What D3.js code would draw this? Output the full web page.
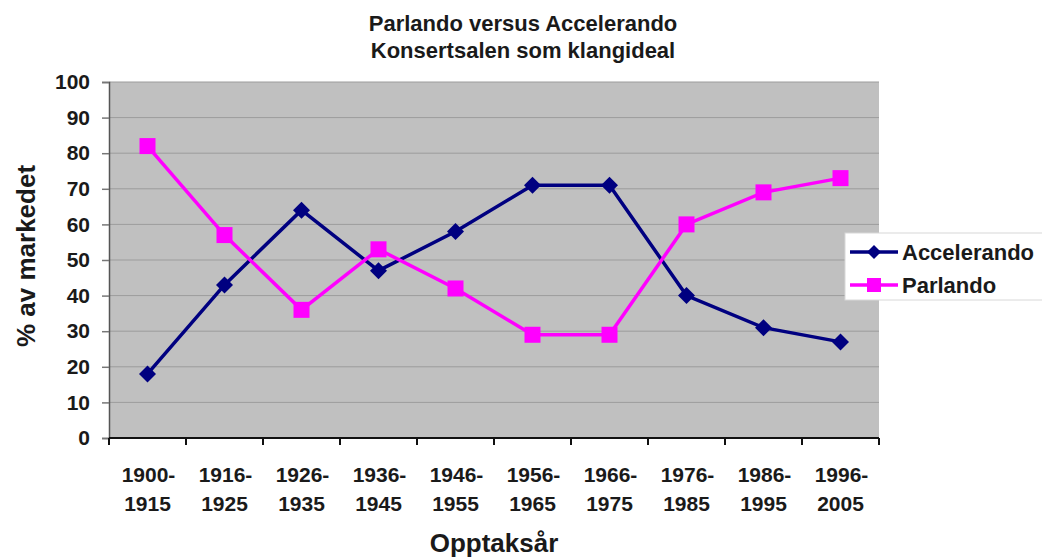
<!DOCTYPE html>
<html><head><meta charset="utf-8">
<script src="https://cdn.jsdelivr.net/npm/d3@7"></script>
<style>body{margin:0;background:#fff}svg{display:block}text{font-family:"Liberation Sans",Arial,sans-serif;font-weight:bold;fill:#1a1a1a}</style>
</head><body><svg id="c" width="1042" height="559"></svg>
<script>
const categories = [["1900-","1915"],["1916-","1925"],["1926-","1935"],["1936-","1945"],["1946-","1955"],["1956-","1965"],["1966-","1975"],["1976-","1985"],["1986-","1995"],["1996-","2005"]];
const accelerando = [18,43,64,47,58,71,71,40,31,27];
const parlando = [82,57,36,53,42,29,29,60,69,73];
const yTicks = [0,10,20,30,40,50,60,70,80,90,100];
const titleLines = ["Parlando versus Accelerando","Konsertsalen som klangideal"];
const seriesNames = ["Accelerando","Parlando"];

const svg = d3.select("#c");
const L=109,R=879,T=82,B=438;
const x = d3.scaleBand().domain(d3.range(categories.length)).range([L,R]);
const y = d3.scaleLinear().domain([0,100]).range([B,T]);

svg.append("rect").attr("x",L).attr("y",T).attr("width",R-L).attr("height",B-T).attr("fill","#c0c0c0");
svg.append("g").selectAll("line").data(yTicks.filter(d=>d>0)).join("line")
  .attr("x1",L).attr("x2",R).attr("y1",d=>y(d)).attr("y2",d=>y(d)).attr("stroke","#9c9c9c").attr("stroke-width",1);

const ya = svg.append("g").attr("transform",`translate(${L},0)`).call(d3.axisLeft(y).tickValues(yTicks).tickSize(7).tickPadding(12));
ya.select(".domain").attr("stroke","#555").attr("stroke-width",1.5);
ya.selectAll(".tick line").attr("stroke","#777").attr("stroke-width",1.5);
ya.selectAll("text").style("font-size","21px").attr("fill","#1a1a1a");

const xa = svg.append("g").attr("transform",`translate(0,${B})`);
xa.append("line").attr("x1",L).attr("x2",R).attr("y1",0).attr("y2",0).attr("stroke","#111").attr("stroke-width",2);
xa.selectAll("line.t").data(d3.range(categories.length+1)).join("line").attr("class","t")
  .attr("x1",i=>L+i*x.step()).attr("x2",i=>L+i*x.step()).attr("y1",0).attr("y2",7).attr("stroke","#111").attr("stroke-width",2);
const cx = i=>x(i)+x.bandwidth()/2;
const xl = xa.selectAll("text").data(categories).join("text")
  .attr("text-anchor","middle").style("font-size","21px");
xl.append("tspan").attr("y",44).attr("x",(d,i)=>cx(i)+1).text(d=>d[0]);
xl.append("tspan").attr("y",73).attr("x",(d,i)=>cx(i)).text(d=>d[1]);

const line = d3.line().x((d,i)=>cx(i)).y(d=>y(d));
svg.append("path").datum(accelerando).attr("d",line).attr("fill","none").attr("stroke","#000080").attr("stroke-width",3.5);
svg.append("path").datum(parlando).attr("d",line).attr("fill","none").attr("stroke","#ff00ff").attr("stroke-width",3.5);
const dia = r => `M0,${-r}L${r},0L0,${r}L${-r},0Z`;
svg.append("g").selectAll("path").data(accelerando).join("path").attr("d",dia(8.5))
  .attr("transform",(d,i)=>`translate(${cx(i)},${y(d)})`).attr("fill","#000080");
svg.append("g").selectAll("rect").data(parlando).join("rect")
  .attr("x",(d,i)=>cx(i)-8).attr("y",d=>y(d)-8).attr("width",16).attr("height",16).attr("fill","#ff00ff");

svg.append("g").selectAll("text").data(titleLines).join("text").attr("x",523).attr("y",(d,i)=>31+i*27)
  .attr("text-anchor","middle").style("font-size","22px").text(d=>d);
svg.append("text").attr("x",494).attr("y",552).attr("text-anchor","middle").style("font-size","26px").text("Opptaksår");
svg.append("text").attr("transform","translate(35,256) rotate(-90)").attr("text-anchor","middle").style("font-size","26px").text("% av markedet");

// legend
const lg = svg.append("g");
lg.append("rect").attr("x",845).attr("y",233).attr("width",200).attr("height",67).attr("fill","#fff").attr("stroke","#d8d8d8");
const colors = ["#000080","#ff00ff"];
seriesNames.forEach((n,i)=>{
  const yy = 252+i*33;
  lg.append("line").attr("x1",850).attr("x2",898).attr("y1",yy).attr("y2",yy).attr("stroke",colors[i]).attr("stroke-width",3.5);
  if(i===0) lg.append("path").attr("d",dia(7)).attr("transform",`translate(874,${yy})`).attr("fill",colors[i]);
  else lg.append("rect").attr("x",867).attr("y",yy-7).attr("width",14).attr("height",14).attr("fill",colors[i]);
  lg.append("text").attr("x",902).attr("y",yy+8).style("font-size","22px").text(n);
});
</script></body></html>
